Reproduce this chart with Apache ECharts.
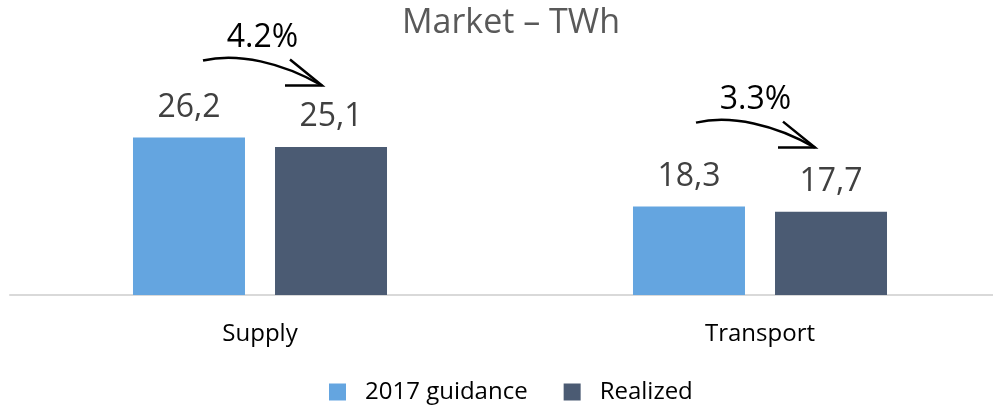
<!DOCTYPE html>
<html>
<head>
<meta charset="utf-8">
<script src="https://cdn.jsdelivr.net/npm/echarts@6/dist/echarts.min.js"></script>
<style>
html,body{margin:0;padding:0;background:#fff;}
#chart{width:993px;height:406px;}
</style>
</head>
<body>
<div id="chart"></div>
<script>
var categories = ['Supply', 'Transport'];
var guidance = [26.2, 18.3];
var realized = [25.1, 17.7];
var changeLabels = ['4.2%', '3.3%'];
var seriesNames = ['2017 guidance', 'Realized'];

var FONT = '"Open Sans", "Noto Sans", sans-serif';
var chart = echarts.init(document.getElementById('chart'));

function fmt(p) { return String(p.value).replace('.', ','); }

var labelCfg = {
  show: true, position: 'top', distance: 14,
  formatter: fmt, color: '#404040', fontSize: 32, fontFamily: FONT
};

chart.setOption({
  animation: false,
  title: {
    text: 'Market \u2013 TWh', left: 506, textAlign: 'center', top: 1,
    textStyle: { color: '#595959', fontSize: 34, fontWeight: 'normal', fontFamily: FONT }
  },
  legend: {
    bottom: -3, left: 324, itemWidth: 17, itemHeight: 17, itemGap: 36,
    icon: 'rect',
    textStyle: { color: '#000', fontSize: 24, fontFamily: FONT, padding: [0, 0, 0, 14] },
    data: seriesNames
  },
  grid: { left: 10, width: 1000, top: 31, bottom: 111, containLabel: false, outerBoundsMode: 'none' },
  xAxis: {
    type: 'category', data: categories,
    axisLine: { lineStyle: { color: '#d9d9d9', width: 2 } },
    axisTick: { show: false },
    axisLabel: { color: '#000', fontSize: 24, fontFamily: FONT, margin: 27 }
  },
  yAxis: {
    type: 'value', min: 8.2, max: 38.37, show: false,
    splitLine: { show: false }
  },
  series: [
    { name: seriesNames[0], type: 'bar', data: guidance, barWidth: 112, barGap: '26.8%',
      itemStyle: { color: '#64a5e0' }, label: labelCfg },
    { name: seriesNames[1], type: 'bar', data: realized, barWidth: 112,
      itemStyle: { color: '#4b5b73' }, label: labelCfg }
  ]
});

// Annotation arrows anchored to bar positions
var graphics = [];
for (var i = 0; i < categories.length; i++) {
  var c = chart.convertToPixel({ gridIndex: 0 }, [i, guidance[i]]);
  var cx = c[0];
  var topY = c[1];
  var x1 = cx - 71 + (i === 0 ? 14 : 7);
  var y1 = topY - (i === 0 ? 77 : 84);
  var x2 = cx + 71 - (i === 0 ? 9 : 16);
  var y2 = y1 + 25;
  graphics.push({
    type: 'bezierCurve',
    shape: { x1: x1, y1: y1, cpx1: x1 + 35, cpy1: y1 - 8, cpx2: x2 - 40, cpy2: y1 + 2, x2: x2, y2: y2 },
    style: { stroke: '#000', lineWidth: 2.5, fill: null }
  });
  graphics.push({
    type: 'polyline',
    shape: { points: [[x2 - 32, y2 - 26], [x2, y2], [x2 - 37, y2]] },
    style: { stroke: '#000', lineWidth: 2.5, fill: null }
  });
  graphics.push({
    type: 'text',
    x: (x1 + x2) / 2, y: y1 - 23,
    style: { text: changeLabels[i], fill: '#000', fontSize: 32, fontFamily: FONT,
      textAlign: 'center', textVerticalAlign: 'middle' }
  });
}
chart.setOption({ graphic: graphics });
</script>
</body>
</html>
